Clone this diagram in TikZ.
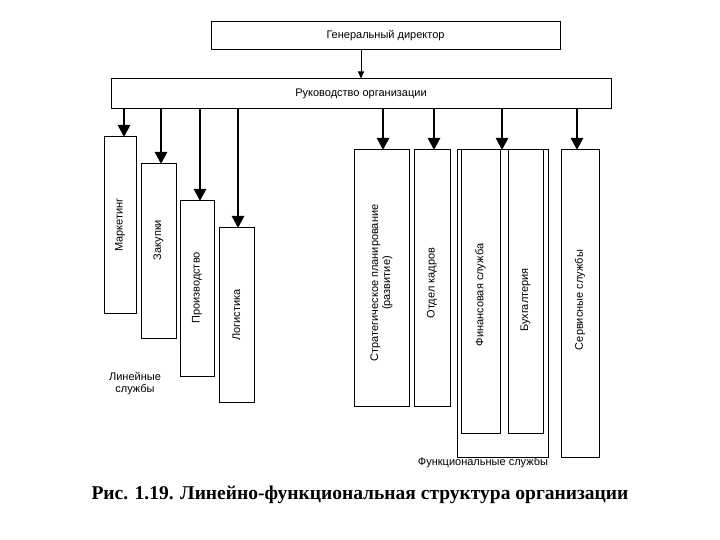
\documentclass[tikz,border=0pt]{standalone}
\usepackage{fontspec}
\setmainfont{Liberation Sans}
\newfontfamily\capfont{Liberation Serif}
\usetikzlibrary{arrows.meta}
\begin{document}
\begin{tikzpicture}[x=1pt,y=-1pt,
  box/.style={draw,line width=1pt,inner sep=0pt},
  lbl/.style={font=\fontsize{11}{12}\selectfont,align=center},
  arr/.style={line width=2.6pt,-{Triangle[width=12pt,length=12pt]}}]
\useasboundingbox (0,0) rectangle (720,540);
\node[box,minimum width=349pt,minimum height=28pt,lbl] (gd) at (385.5,36) {Генеральный директор};
\node[box,minimum width=500pt,minimum height=30pt,lbl] (ro) at (361,94) {Руководство организации};
\draw[line width=1pt,-{Triangle[width=6pt,length=7pt]}] (gd.south -| ro.north) -- (ro.north);
% line services
\draw[box] (104,137) rectangle (136,313); \node[lbl,rotate=90] (m) at (120,225) {Маркетинг};
\draw[box] (141,164) rectangle (176,338); \node[lbl,rotate=90] (z) at (158.5,240) {Закупки};
\draw[box] (180,201) rectangle (214,376); \node[lbl,rotate=90] (p) at (197,288) {Производство};
\draw[box] (219,228) rectangle (254,402); \node[lbl,rotate=90] (l) at (236.5,315) {Логистика};
\coordinate (mt) at (124,137); \coordinate (zt) at (161,164); \coordinate (pt) at (200,201); \coordinate (lt) at (238,228);
\draw[arr] (124,109) -- (mt);
\draw[arr] (161,109) -- (zt);
\draw[arr] (200,109) -- (pt);
\draw[arr] (238,109) -- (lt);
% functional
\draw[box] (354,150) rectangle (409,406); \node[lbl,rotate=90] (s) at (381.5,283) {Стратегическое планирование\\(развитие)};
\draw[box] (414,150) rectangle (450,406); \node[lbl,rotate=90] (k) at (432,283) {Отдел кадров};
\draw[box] (457,150) rectangle (548,457);
\draw[box] (461,150) rectangle (500,433); \node[lbl,rotate=90] (f) at (480.5,295) {Финансовая служба};
\draw[box] (508,150) rectangle (543,433); \node[lbl,rotate=90] (b) at (525.5,300) {Бухгалтерия};
\draw[box] (561,150) rectangle (599,457); \node[lbl,rotate=90] (sv) at (580,300) {Сервисные службы};
\coordinate (st) at (383,150); \coordinate (kt) at (434,150); \coordinate (ft) at (502,150); \coordinate (svt) at (577,150);
\draw[arr] (383,109) -- (st);
\draw[arr] (434,109) -- (kt);
\draw[arr] (502,109) -- (ft);
\draw[arr] (577,109) -- (svt);
\node[lbl] (ls) at (135,384) {Линейные\\службы};
\node[lbl] (fs) at (483,463) {Функциональные службы};
\node[font=\capfont\bfseries\fontsize{19.5}{21}\selectfont] (cap) at (360,495) {Рис. 1.19. Линейно-функциональная структура организации};
\end{tikzpicture}
\end{document}
